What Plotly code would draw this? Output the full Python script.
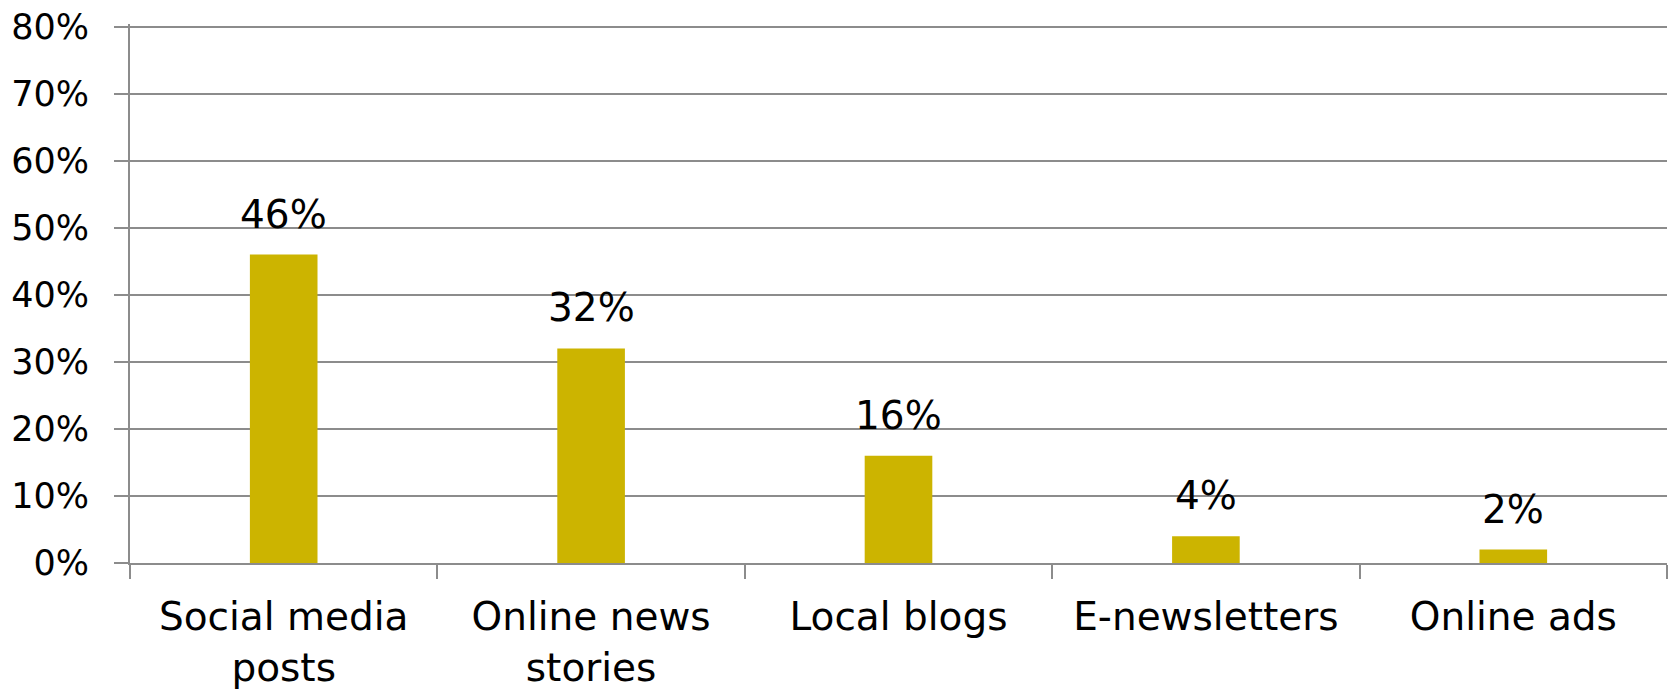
import plotly.graph_objects as go

categories = ["Social media<br>posts", "Online news<br>stories", "Local blogs", "E-newsletters", "Online ads"]
values = [46, 32, 16, 4, 2]
y_ticks = [0, 10, 20, 30, 40, 50, 60, 70, 80]
y_tick_labels = [f"{v}%" for v in y_ticks]

FONT = "Century Gothic, DejaVu Sans"
GRID = "#8c8c8c"
SIZE = 39

fig = go.Figure(
    go.Bar(
        x=categories,
        y=values,
        marker=dict(color="#ccb400", line=dict(width=0)),
        hoverinfo="skip",
    )
)

for cat, v in zip(categories, values):
    fig.add_annotation(
        x=cat, y=v, text=f"{v}%", showarrow=False,
        yanchor="bottom", yshift=16,
        font=dict(family=FONT, size=SIZE, color="#000000"),
    )

fig.update_layout(
    width=1673,
    height=693,
    margin=dict(l=130, r=6, t=24, b=130),
    paper_bgcolor="white",
    plot_bgcolor="white",
    bargap=0.78,
    showlegend=False,
    font=dict(family=FONT, size=SIZE, color="#000000"),
)

fig.update_xaxes(
    type="category",
    automargin=False,
    showgrid=False,
    showline=True,
    linecolor=GRID,
    linewidth=2,
    ticks="outside",
    tickson="boundaries",
    ticklen=14,
    tickwidth=2,
    tickcolor=GRID,
    ticklabelstandoff=18,
    tickfont=dict(family=FONT, size=SIZE, color="#000000"),
)

fig.update_yaxes(
    range=[0, 80.4],
    automargin=False,
    tickvals=y_ticks,
    ticktext=y_tick_labels,
    showgrid=True,
    gridcolor=GRID,
    gridwidth=2,
    showline=True,
    linecolor=GRID,
    linewidth=2,
    ticks="outside",
    ticklen=14,
    tickwidth=2,
    tickcolor=GRID,
    ticklabelstandoff=18,
    zeroline=False,
    tickfont=dict(family=FONT, size=35, color="#000000"),
)

fig.write_html("out.html")
